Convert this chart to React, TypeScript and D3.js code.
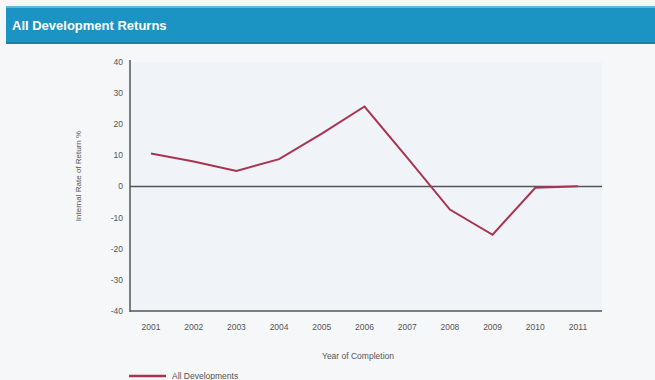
import React from "react";
import * as d3 from "d3";

const years = ["2001","2002","2003","2004","2005","2006","2007","2008","2009","2010","2011"];
const returns = [10.6, 8, 5, 8.8, 17, 25.7, 9.3, -7.4, -15.5, -0.4, 0.1];
const yTicks = [40, 30, 20, 10, 0, -10, -20, -30, -40];
const titleText = "All Development Returns";
const seriesName = "All Developments";
const xTitle = "Year of Completion";
const yTitle = "Internal Rate of Return %";

export default function App() {
  const W = 655, H = 380;
  const x = d3.scalePoint<string>().domain(years).range([151, 578]);
  const y = d3.scaleLinear().domain([-40, 40]).range([311, 62]);
  const line = d3.line<number>().x((_, i) => x(years[i]) as number).y(d => y(d));
  const axisX0 = 130, axisX1 = 602;
  return (
    <svg width={W} height={H} style={{ position: "absolute", left: 0, top: 0, background: "#f5f7f9" }}
      fontFamily="'Liberation Sans', Arial, sans-serif">
      <rect x={0} y={0} width={W} height={H} fill="#f5f7f9" />
      <rect x={6} y={6} width={W - 6} height={38} fill="#1b93c3" />
      <rect x={6} y={6} width={W - 6} height={2} fill="#5fb8dc" />
      <rect x={6} y={42} width={W - 6} height={2} fill="#177fa8" />
      <text x={12} y={30} fill="#ffffff" fontSize={13} fontWeight="bold">{titleText}</text>
      <rect x={axisX0} y={62} width={axisX1 - axisX0} height={249} fill="#f0f3f7" />
      {yTicks.map(t => (
        <text key={t} x={123} y={y(t)} dy="0.35em" textAnchor="end" fontSize={8.5} fill="#555">{t}</text>
      ))}
      <line x1={axisX0} x2={axisX0} y1={60} y2={312} stroke="#555" strokeWidth={1.5} />
      <line x1={axisX0} x2={axisX1} y1={y(-40)} y2={y(-40)} stroke="#555" strokeWidth={1.5} />
      <line x1={axisX0} x2={axisX1} y1={y(0)} y2={y(0)} stroke="#555" strokeWidth={1.5} />
      <path d={line(returns) || ""} fill="none" stroke="#a8344f" strokeWidth={2} strokeLinejoin="miter" />
      {years.map(yr => (
        <text key={yr} x={x(yr)} y={327} dy="0.35em" textAnchor="middle" fontSize={8.5} fill="#555">{yr}</text>
      ))}
      <text x={358} y={356} dy="0.35em" textAnchor="middle" fontSize={8.5} fill="#555">{xTitle}</text>
      <text transform={`translate(78,176) rotate(-90)`} textAnchor="middle" dy="0.35em" fontSize={8} fill="#555">{yTitle}</text>
      <line x1={129} x2={166} y1={376} y2={376} stroke="#a8344f" strokeWidth={2.5} />
      <text x={172} y={376} dy="0.35em" fontSize={8.5} fill="#555">{seriesName}</text>
    </svg>
  );
}
